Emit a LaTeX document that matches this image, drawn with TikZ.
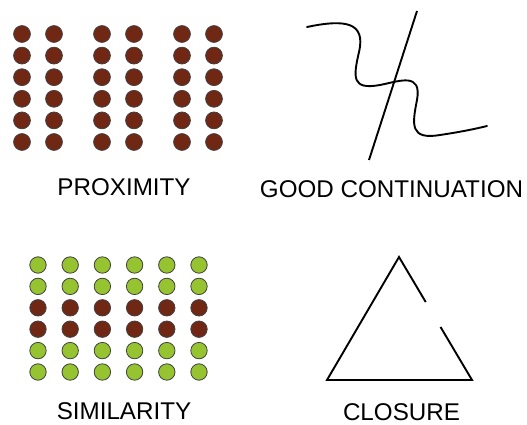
\documentclass[tikz,border=0pt]{standalone}
\usepackage{fontspec}
\setmainfont{Liberation Sans}
\usetikzlibrary{calc}
\definecolor{dotbrown}{RGB}{112,40,20}
\definecolor{dotgreen}{RGB}{150,196,48}
\tikzset{
    dot/.style={draw=black!75, line width=0.8pt},
    label/.style={anchor=base, inner sep=0pt, font=\fontsize{24.2}{28}\selectfont},
    stroke/.style={line width=1.9pt}
}
\begin{document}
\begin{tikzpicture}[x=1pt, y=-1pt]
    \useasboundingbox (0,0) rectangle (527,425);

    % 接近性: 三组两列
    \foreach \x in {22, 54, 102, 134, 182, 214} {
        \foreach \r in {0,...,5} {
            \draw[dot, fill=dotbrown] (\x, 34+21.6*\r) circle (8.4);
        }
    }
    \node[label] (prox) at (124, 195.5) {PROXIMITY};

    % 良好连续: 曲线与直线
    \coordinate (W0) at (307, 27);
    \coordinate (W1) at (487, 126);
    \draw[stroke, line cap=round] (W0) .. controls (345,19) and (366,22) .. (359,52)
        .. controls (353,78) and (352,90) .. (380,85)
        .. controls (400,81) and (422,72) .. (417,100)
        .. controls (412,125) and (410,140) .. (440,135)
        .. controls (460,132) and (475,129) .. (W1);
    \coordinate (L0) at (417, 11);
    \coordinate (L1) at (369, 160);
    \draw[stroke] (L0) -- (L1);
    \node[label] (cont) at (391.5, 197) {GOOD CONTINUATION};

    % 相似性: 中间两行为棕色
    \foreach \c in {0,...,5} {
        \foreach \r in {0,...,5} {
            \ifnum\r=2 \def\col{dotbrown}\else\ifnum\r=3 \def\col{dotbrown}\else\def\col{dotgreen}\fi\fi
            \draw[dot, fill=\col] (38+32.2*\c, 265+21.4*\r) circle (8.2);
        }
    }
    \node[label] (sim) at (124, 419) {SIMILARITY};

    % 闭合: 右边有缺口的三角形
    \coordinate (A) at (399, 257);
    \coordinate (B) at (327, 380);
    \coordinate (C) at (472, 380);
    \draw[stroke] ($(A)!0.366!(C)$) -- (A) -- (B) -- (C) -- ($(A)!0.569!(C)$);
    \node[label] (clos) at (401.5, 420) {CLOSURE};
\end{tikzpicture}
\end{document}
